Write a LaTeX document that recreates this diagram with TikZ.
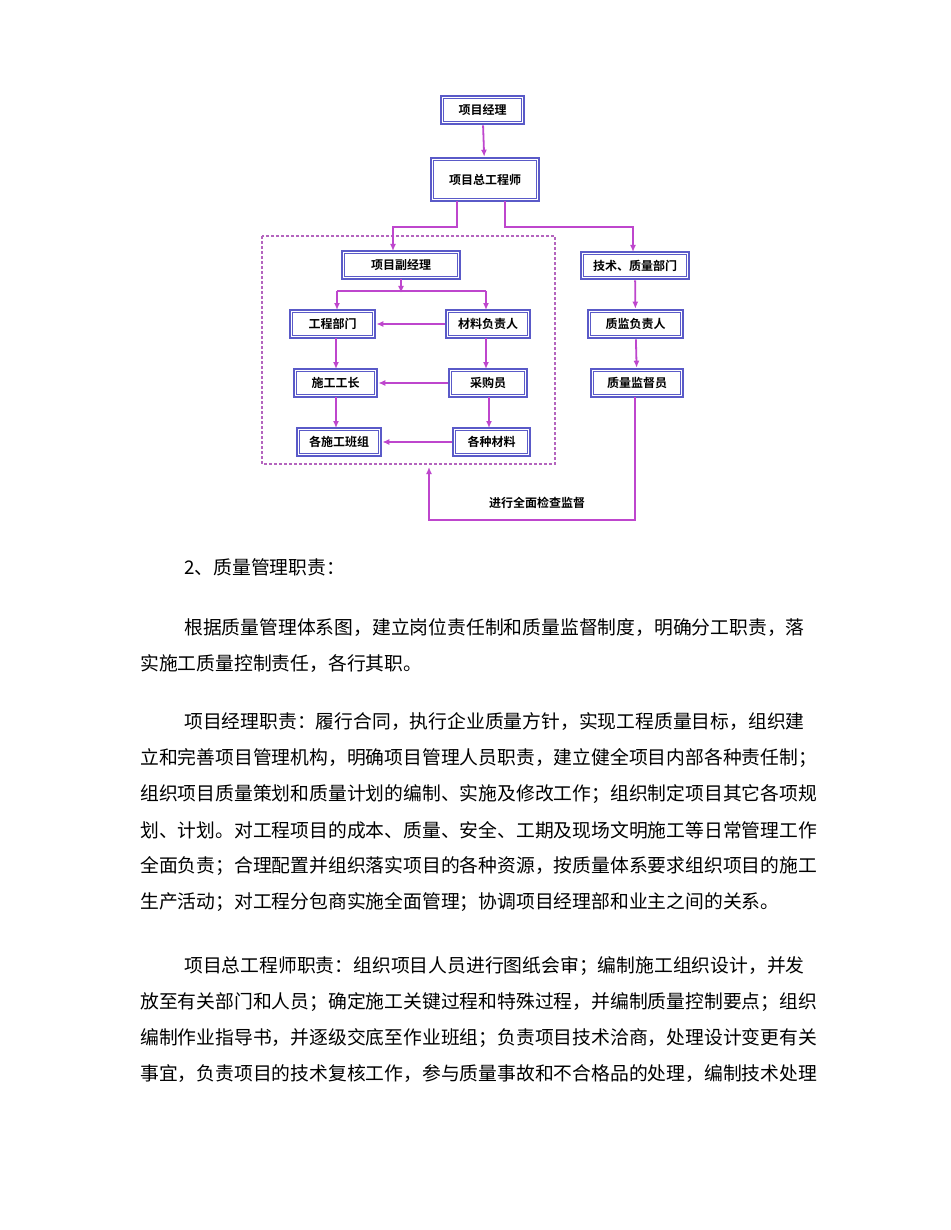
\documentclass[tikz,border=0pt]{standalone}
\usepackage{fontspec}
\setmainfont{Liberation Serif}
\newfontfamily\cjk{Noto Sans CJK SC}
\newfontfamily\cjkb{Noto Sans CJK SC Bold}
\usetikzlibrary{arrows.meta}
\definecolor{boxblue}{RGB}{90,90,200}
\definecolor{lnk}{RGB}{190,70,205}
\definecolor{dsh}{RGB}{180,100,190}
\begin{document}
\begin{tikzpicture}[x=1pt,y=-1pt,
  box/.style={draw=boxblue,line width=2.6pt,fill=white,inner sep=0pt,font=\cjkb\fontsize{12}{12}\selectfont,
    path picture={\draw[boxblue,line width=0.8pt]([shift={(2.6pt,-2.6pt)}]path picture bounding box.north west) rectangle ([shift={(-2.6pt,2.6pt)}]path picture bounding box.south east);}},
  ln/.style={lnk,line width=1.8pt},
  ar/.style={ln,-{Latex[length=7pt,width=6pt]}},
  body/.style={anchor=west,inner sep=0pt,font=\cjk\fontsize{18.8}{20}\selectfont}]
\useasboundingbox[fill=white] (0,0) rectangle (950,1230);
\newcommand{\bx}[6]{\node[box,minimum width=#4-#2,minimum height=#5-#3] (#1) at ({(#2+#4)/2},{(#3+#5)/2}) {#6};}
\bx{pm}{441}{96}{524}{124}{项目经理}
\bx{ce}{431}{158}{539}{201}{项目总工程师}
\bx{dm}{342}{251}{460}{279}{项目副经理}
\bx{tq}{581}{252}{689}{279}{技术、质量部门}
\bx{gc}{290}{310}{375}{338}{工程部门}
\bx{cl}{446}{310}{530}{338}{材料负责人}
\bx{zj}{588}{310}{683}{338}{质监负责人}
\bx{sg}{294}{369}{377}{397}{施工工长}
\bx{cg}{449}{369}{527}{397}{采购员}
\bx{zl}{591}{369}{683}{397}{质量监督员}
\bx{bz}{297}{428}{381}{456}{各施工班组}
\bx{gz}{453}{428}{530}{456}{各种材料}
\draw[dsh,line width=1.5pt,dash pattern=on 3pt off 2pt] (262,236) rectangle (555,464);
\coordinate (fb) at (429,467);
\draw[ar] (pm) -- (ce);
\draw[ar] (457,201) |- (393,227) -- (393,251);
\draw[ar] (505,201) |- (633,227) -- (633,252);
\draw[ar] (tq) -- (zj);
\draw[ar] (zj) -- (zl);
\draw[ar] (401,279) -- (401,293);
\draw[ln] (337,291) -- (486,291);
\draw[ar] (337,291) -- (337,310);
\draw[ar] (486,291) -- (486,310);
\draw[ar] (cl) -- (gc);
\draw[ar] (cg) -- (sg);
\draw[ar] (gz) -- (bz);
\draw[ar] (336,338) -- (336,369);
\draw[ar] (336,397) -- (336,428);
\draw[ar] (486,338) -- (486,369);
\draw[ar] (489,397) -- (489,428);
\draw[ar] (635,397) |- (429,520) -- (fb);
\node[font=\cjkb\fontsize{12}{12}\selectfont] (lb) at (537,503) {进行全面检查监督};
\node[body] (t0) at (184,567) {2、质量管理职责：};
\node[body] (t1) at (184,628) {根据质量管理体系图，建立岗位责任制和质量监督制度，明确分工职责，落};
\node[body] (t2) at (140,664) {实施工质量控制责任，各行其职。};
\node[body] (t3) at (184,722) {项目经理职责：履行合同，执行企业质量方针，实现工程质量目标，组织建};
\node[body] (t4) at (140,758) {立和完善项目管理机构，明确项目管理人员职责，建立健全项目内部各种责任制；};
\node[body] (t5) at (140,794) {组织项目质量策划和质量计划的编制、实施及修改工作；组织制定项目其它各项规};
\node[body] (t6) at (140,830) {划、计划。对工程项目的成本、质量、安全、工期及现场文明施工等日常管理工作};
\node[body] (t7) at (140,866) {全面负责；合理配置并组织落实项目的各种资源，按质量体系要求组织项目的施工};
\node[body] (t8) at (140,902) {生产活动；对工程分包商实施全面管理；协调项目经理部和业主之间的关系。};
\node[body] (t9) at (184,966) {项目总工程师职责：组织项目人员进行图纸会审；编制施工组织设计，并发};
\node[body] (t10) at (140,1002) {放至有关部门和人员；确定施工关键过程和特殊过程，并编制质量控制要点；组织};
\node[body] (t11) at (140,1038) {编制作业指导书，并逐级交底至作业班组；负责项目技术洽商，处理设计变更有关};
\node[body] (t12) at (140,1074) {事宜，负责项目的技术复核工作，参与质量事故和不合格品的处理，编制技术处理};
\end{tikzpicture}
\end{document}
